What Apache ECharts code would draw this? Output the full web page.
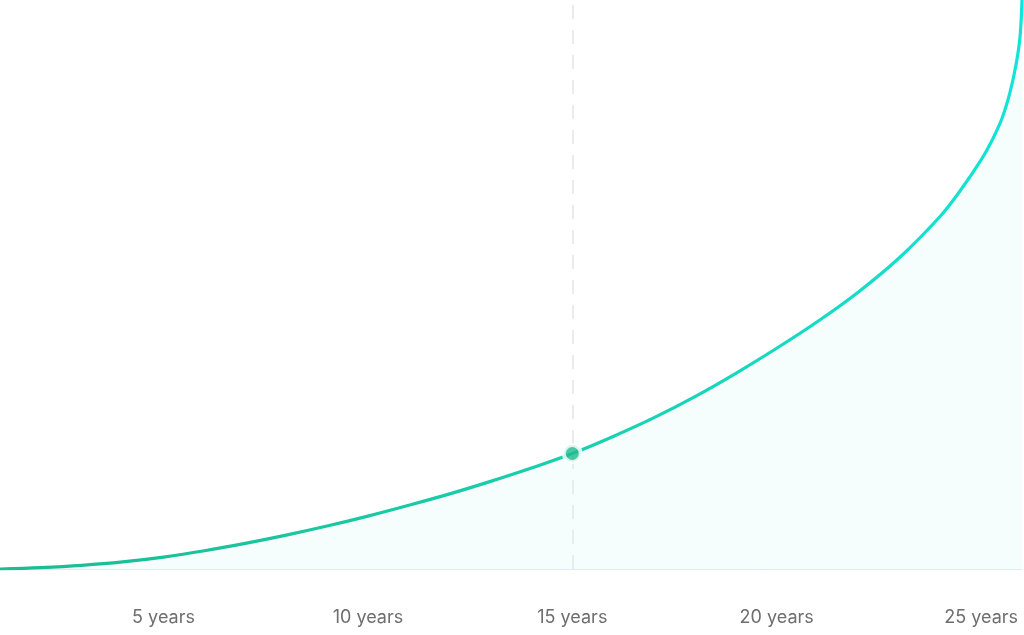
<!DOCTYPE html>
<html>
<head>
<meta charset="utf-8">
<script src="https://cdn.jsdelivr.net/npm/echarts@6/dist/echarts.min.js"></script>
<style>
html,body{margin:0;padding:0;background:#fff;}
#chart{width:1024px;height:635px;}
</style>
</head>
<body>
<div id="chart"></div>
<script>
// Data (x in years, y in relative growth units 0..100)
const years  = [1, 2, 3, 4, 5, 6, 7, 8, 9, 10, 11, 12, 13, 14, 15, 16, 17, 18, 19, 20, 21, 22, 23, 24, 24.5, 25, 25.25, 25.5, 25.7, 25.85, 25.95, 26];
const values = [0, 0.25, 0.65, 1.25, 2.1, 3.2, 4.5, 5.95, 7.55, 9.3, 11.2, 13.2, 15.4, 17.75, 20.3, 23.3, 26.6, 30.3, 34.4, 38.8, 43.5, 48.7, 54.7, 62.0, 66.6, 71.9, 75.1, 79.0, 83.6, 88.5, 93.4, 100];
const tickYears = [5, 10, 15, 20, 25];
const highlightYear = 15;
const highlightValue = 20.3;
const unitLabel = ' years';

const chart = echarts.init(document.getElementById('chart'), null, {renderer: 'canvas'});
const lineData = years.map((y, i) => [y, values[i]]);

chart.setOption({
  animation: false,
  backgroundColor: '#ffffff',
  grid: {left: 0, right: 2, top: 0, bottom: 66, containLabel: false},
  xAxis: {
    type: 'value',
    min: 1,
    max: 26,
    axisLine: {show: true, lineStyle: {color: '#d9eff0', width: 1}},
    axisTick: {show: false},
    splitLine: {show: false},
    axisLabel: {
      customValues: tickYears,
      showMinLabel: true,
      showMaxLabel: true,
      margin: 40,
      color: '#6e6e6e',
      fontFamily: 'Inter, "Noto Sans", sans-serif',
      fontSize: 18,
      formatter: v => v + unitLabel
    }
  },
  yAxis: {
    type: 'value',
    min: 0,
    max: 100,
    show: false
  },
  series: [
    {
      type: 'line',
      data: lineData,
      smooth: 0.35,
      showSymbol: false,
      symbol: 'none',
      clip: true,
      lineStyle: {
        width: 3.2,
        color: new echarts.graphic.LinearGradient(0, 0, 1, 0, [
          {offset: 0, color: '#1cbb90'},
          {offset: 0.55, color: '#19cfae'},
          {offset: 1, color: '#13e4d6'}
        ])
      },
      areaStyle: {color: 'rgba(40,215,205,0.06)'},
      markLine: {
        silent: true,
        symbol: ['none', 'none'],
        label: {show: false},
        lineStyle: {color: '#e3e6e6', width: 1.5, type: [14, 11]},
        data: [{xAxis: highlightYear}]
      },
      z: 2
    },
    {
      type: 'scatter',
      data: [[highlightYear, highlightValue]],
      symbolSize: 17,
      itemStyle: {color: '#1fb98f', borderColor: '#ffffff', borderWidth: 4},
      z: 5
    }
  ]
});
</script>
</body>
</html>
